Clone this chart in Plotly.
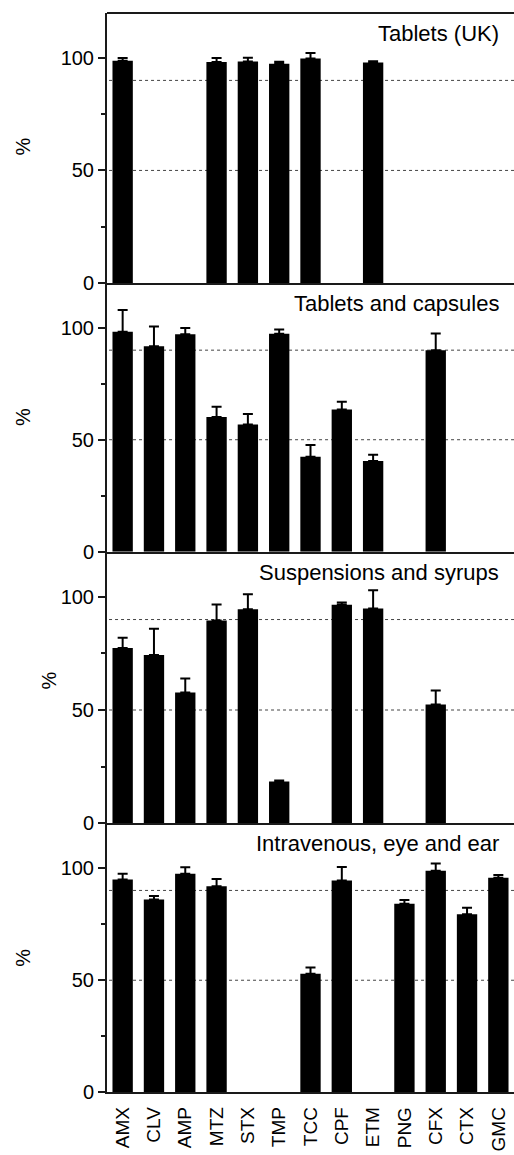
import plotly.graph_objects as go

categories = ["AMX", "CLV", "AMP", "MTZ", "STX", "TMP", "TCC", "CPF", "ETM", "PNG", "CFX", "CTX", "GMC"]

panel_titles = ["Tablets (UK)", "Tablets and capsules", "Suspensions and syrups", "Intravenous, eye and ear"]

tablets_uk = [98.7, None, None, 98.2, 98.4, 97.4, 99.7, None, 97.9, None, None, None, None]
tablets_uk_err = [1.2, 0, 0, 1.7, 1.7, 0.9, 2.5, 0, 0.6, 0, 0, 0, 0]

tablets_caps = [98.2, 91.8, 97.1, 60.1, 56.8, 97.3, 42.4, 63.5, 40.5, None, 90.0, None, None]
tablets_caps_err = [9.7, 8.8, 2.8, 4.6, 4.7, 1.9, 5.2, 3.5, 2.8, 0, 7.4, 0, 0]

susp_syrups = [77.4, 74.3, 57.7, 89.6, 94.6, 18.4, None, 96.5, 94.9, None, 52.4, None, None]
susp_syrups_err = [4.5, 11.6, 6.2, 7.0, 6.6, 0.4, 0, 1.0, 8.1, 0, 6.2, 0, 0]

iv_eye_ear = [94.9, 86.0, 97.4, 91.9, None, None, 52.9, 94.4, None, 84.1, 98.8, 79.4, 95.7]
iv_eye_ear_err = [2.5, 1.5, 2.9, 3.2, 0, 0, 2.8, 6.0, 0, 1.6, 3.2, 2.9, 1.2]

reference_lines = [50, 90]
y_ticks = [0, 50, 100]

panels = [
    (tablets_uk, tablets_uk_err),
    (tablets_caps, tablets_caps_err),
    (susp_syrups, susp_syrups_err),
    (iv_eye_ear, iv_eye_ear_err),
]

W, H = 514, 1155
FONT = "Liberation Sans, Arial, sans-serif"
AX = "#1a1a1a"

px_extents = [(13, 285.7), (285.7, 557), (557, 831), (831, 1103)]
pct_pos = [(23, 148), (23, 421), (49, 687), (23, 967)]
x_left = 107

fig = go.Figure()
layout = dict(
    width=W, height=H,
    margin=dict(l=0, r=0, t=0, b=0),
    paper_bgcolor="white", plot_bgcolor="white",
    showlegend=False,
    font=dict(family=FONT, color="black"),
    bargap=0.35,
)
shapes = []
annotations = []

for i, ((vals, errs), title) in enumerate(zip(panels, panel_titles)):
    n = i + 1
    xa = "x" if n == 1 else f"x{n}"
    ya = "y" if n == 1 else f"y{n}"
    fig.add_trace(go.Bar(
        x=categories, y=vals,
        xaxis=xa, yaxis=ya,
        marker=dict(color="black", line=dict(width=0)),
        width=0.65,
        error_y=dict(type="data", symmetric=False, array=errs,
                     arrayminus=[0] * len(errs),
                     color="black", thickness=2, width=5),
        hoverinfo="skip",
    ))
    top, bot = px_extents[i]
    dom = [1 - bot / H, 1 - top / H]
    last = (n == 4)
    layout[f"xaxis{'' if n == 1 else n}"] = dict(
        domain=[x_left / W, 1],
        anchor=ya,
        type="category",
        categoryorder="array", categoryarray=categories,
        range=[-0.5, 12.5],
        showline=True, linewidth=2, linecolor=AX,
        ticks="",
        showgrid=False, zeroline=False,
        showticklabels=last,
        tickangle=-90,
        tickfont=dict(size=19, family=FONT, color="black"),
        ticklabelstandoff=5,
    )
    layout[f"yaxis{'' if n == 1 else n}"] = dict(
        domain=dom,
        anchor=xa,
        range=[0, 120],
        tickmode="array", tickvals=y_ticks,
        ticks="outside", ticklen=7, tickwidth=2, tickcolor=AX,
        minor=dict(tickmode="array", tickvals=[25, 75], ticks="outside",
                   ticklen=4, tickwidth=1.5, tickcolor=AX),
        showline=True, linewidth=2, linecolor=AX,
        showgrid=False, zeroline=False,
        tickfont=dict(size=20, family=FONT, color="black"),
    )
    for yv in reference_lines:
        shapes.append(dict(
            type="line", xref=f"{xa} domain", yref=ya,
            x0=0.005, x1=1, y0=yv, y1=yv,
            line=dict(color="#444444", width=1, dash="dot"),
            layer="below",
        ))
    if n == 1:
        shapes.append(dict(
            type="line", xref=f"{xa} domain", yref=f"{ya} domain",
            x0=0, x1=1, y0=1, y1=1,
            line=dict(color=AX, width=2),
        ))
    annotations.append(dict(
        text=title, xref=f"{xa} domain", yref=ya,
        x=0.968, y=111, xanchor="right", yanchor="middle",
        showarrow=False, font=dict(size=22, family=FONT, color="black"),
    ))
    cx, cy = pct_pos[i]
    annotations.append(dict(
        text="%", xref="paper", yref="paper",
        x=cx / W, y=1 - cy / H, xanchor="center", yanchor="middle",
        textangle=-90, showarrow=False,
        font=dict(size=20, family=FONT, color="black"),
    ))

layout["shapes"] = shapes
layout["annotations"] = annotations
fig.update_layout(**layout)
fig.write_html(
    "out.html",
    config={"displayModeBar": False},
    post_script="document.body.style.margin='0';document.body.style.padding='0';document.body.style.overflow='hidden';",
)
